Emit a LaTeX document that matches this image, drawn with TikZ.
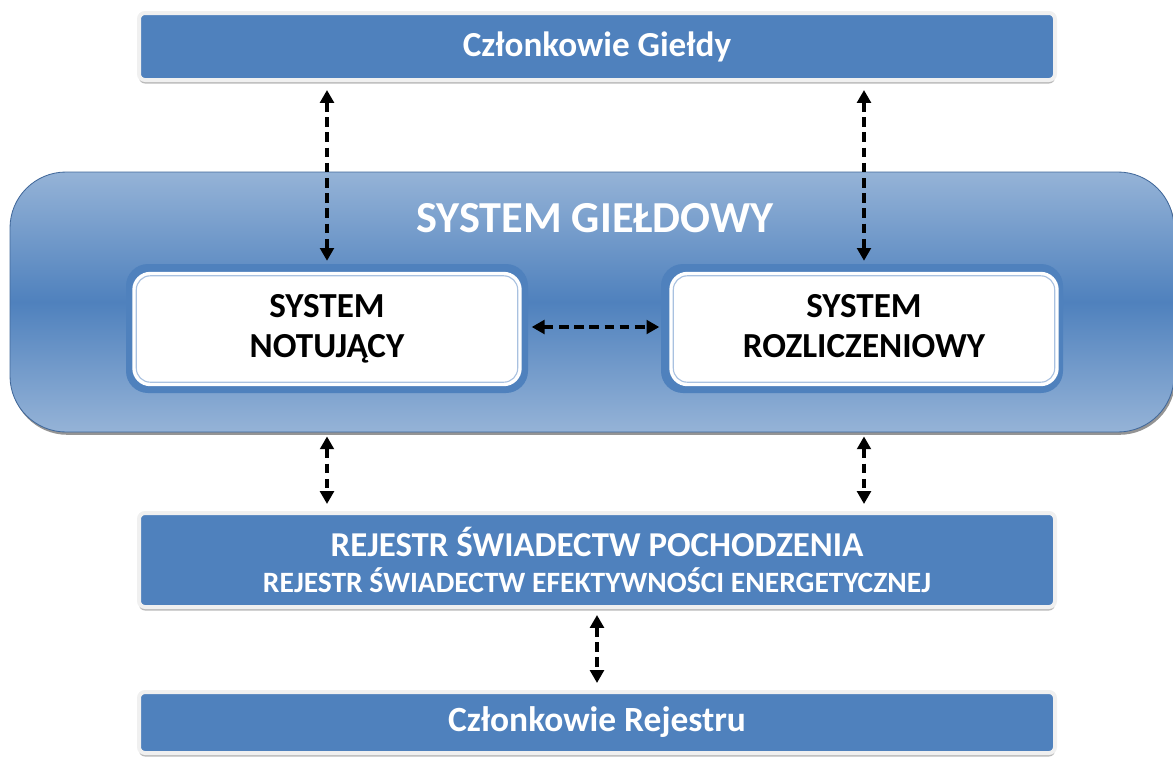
\documentclass[tikz,border=0pt]{standalone}
\usepackage{fontspec}
\setmainfont{Carlito}
\usetikzlibrary{arrows.meta,shadows,calc}
\definecolor{officeblue}{HTML}{4F81BD}
\definecolor{paleblue}{HTML}{95B3D7}
\definecolor{rimgray}{HTML}{F0F0F0}
\definecolor{edgeblue}{HTML}{41689A}
\definecolor{lineblue}{HTML}{A9C1E0}
\tikzset{
  bluebox/.style={draw=rimgray, line width=0.1cm, fill=officeblue, rounded corners=0.15cm,
    text=white, font=\bfseries, align=center,
    drop shadow={shadow xshift=0pt, shadow yshift=-2.5pt, fill=black!45, opacity=0.6}},
  bigbox/.style={draw=edgeblue, line width=0.6pt, rounded corners=1.4cm,
    top color=paleblue, bottom color=paleblue, middle color=officeblue,
    drop shadow={shadow xshift=1pt, shadow yshift=-2pt, fill=black!70, opacity=0.6}},
  whitebox/.style={draw=white, line width=0.06cm, fill=white, rounded corners=0.42cm,
    text=black, font=\fontsize{25}{28.5}\selectfont\bfseries, align=center},
  halo/.style={fill=officeblue, rounded corners=0.55cm},
  innerline/.style={draw=lineblue, line width=0.8pt, rounded corners=0.35cm},
  link/.style={{Triangle[length=0.32cm,width=0.34cm]}-{Triangle[length=0.32cm,width=0.34cm]},
    dash pattern=on 0.24cm off 0.14cm, line width=0.09cm, black},
}
\begin{document}
\begin{tikzpicture}[x=0.025cm, y=-0.025cm]
\useasboundingbox (0,0) rectangle (1173,758);
% outer system frame
\node[bigbox, minimum width={1164*0.025cm}, minimum height={260*0.025cm}] (gielda) at (592,302) {};
\node[text=white, font=\fontsize{31.5}{36}\selectfont\bfseries] (gtitle) at (595,218) {SYSTEM GIEŁDOWY};
% exchange members
\node[bluebox, minimum width={916*0.025cm}, minimum height={67*0.025cm},
  font=\fontsize{25}{28}\selectfont\bfseries] (top) at (597,46.5) {Członkowie Giełdy};
% inner subsystems
\fill[halo] (126,264) rectangle (528,393);
\fill[halo] (661,264) rectangle (1063,393);
\node[whitebox, minimum width={387*0.025cm}, minimum height={112*0.025cm}] (notuj) at (327,329) {SYSTEM\\NOTUJĄCY};
\node[whitebox, minimum width={387*0.025cm}, minimum height={112*0.025cm}] (rozl) at (864,329) {SYSTEM\\ROZLICZENIOWY\vphantom{Ą}};
\draw[innerline] ([shift={(4,4)}]notuj.north west) rectangle ([shift={(-4,-4)}]notuj.south east);
\draw[innerline] ([shift={(4,4)}]rozl.north west) rectangle ([shift={(-4,-4)}]rozl.south east);
% registers
\node[bluebox, minimum width={916*0.025cm}, minimum height={94*0.025cm},
  font=\fontsize{24.8}{25}\selectfont\bfseries] (rejestr) at (597,560)
  {REJESTR ŚWIADECTW POCHODZENIA\\
   {\fontsize{21}{24}\selectfont REJESTR ŚWIADECTW EFEKTYWNOŚCI ENERGETYCZNEJ}};
\node[bluebox, minimum width={916*0.025cm}, minimum height={61*0.025cm},
  font=\fontsize{25.2}{28}\selectfont\bfseries] (bottom) at (597,722.5) {Członkowie Rejestru};
% connectors
\draw[link] ($(top.south -| notuj.north)+(0,8)$) -- ($(notuj.north)+(0,-11)$);
\draw[link] ($(top.south -| rozl.north)+(0,8)$) -- ($(rozl.north)+(0,-11)$);
\draw[link] ($(notuj.east)+(10,-2)$) -- ($(rozl.west)+(-10,-2)$);
\draw[link] ($(gielda.south -| notuj.south)+(0,4)$) -- ($(rejestr.north -| notuj.south)+(0,-7)$);
\draw[link] ($(gielda.south -| rozl.south)+(0,4)$) -- ($(rejestr.north -| rozl.south)+(0,-7)$);
\draw[link] ($(rejestr.south)+(0,6)$) -- ($(bottom.north)+(0,-7)$);
\end{tikzpicture}
\end{document}
